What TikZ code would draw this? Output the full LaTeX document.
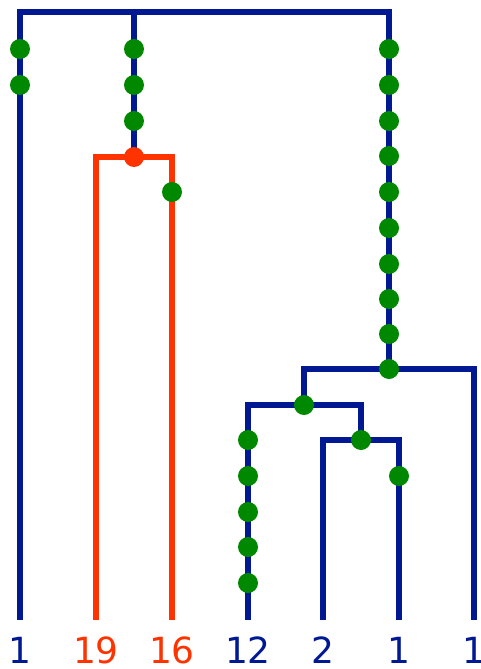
\documentclass[tikz,border=0pt]{standalone}
\usepackage{fontspec}
\setmainfont{DejaVu Sans}
\definecolor{tblue}{RGB}{0,24,145}
\definecolor{tred}{RGB}{255,51,0}
\definecolor{tgreen}{RGB}{0,136,0}
\tikzset{
  bl/.style={draw=tblue,line width=5.5pt,line join=miter},
  rd/.style={draw=tred,line width=5.5pt,line join=miter},
  gdot/.style={circle,fill=tgreen,inner sep=0pt,minimum size=20pt},
  rdot/.style={circle,fill=tred,inner sep=0pt,minimum size=20pt},
  lab/.style={anchor=base,inner sep=0pt,font=\fontsize{36}{40}\selectfont},
}
\begin{document}
\begin{tikzpicture}[x=1pt,y=-1pt]
\useasboundingbox (0,0) rectangle (481,669);
% junctions
\coordinate (rootL) at (20,12);
\coordinate (rootM) at (134,12);
\coordinate (rootR) at (389,12);
\coordinate (A) at (134,157);
\coordinate (B) at (389,369);
\coordinate (C) at (304,405);
\coordinate (D) at (361,440);
% leaves
\coordinate (l1) at (20,620);
\coordinate (l2) at (96,620);
\coordinate (l3) at (172,620);
\coordinate (l4) at (248,620);
\coordinate (l5) at (323,620);
\coordinate (l6) at (399,620);
\coordinate (l7) at (474,620);
% branches
\draw[bl] (l1) -- (rootL) -- (rootR) -- (B);
\draw[bl] (rootM) -- (A);
\draw[bl] (C) |- (B) -| (l7);
\draw[bl] (l4) |- (C) -| (D);
\draw[bl] (l5) |- (D) -| (l6);
\draw[rd] (l2) |- (A) -| (l3);
% dots
\node[gdot] (g1) at (20,49) {};
\node[gdot] (g2) at (20,85) {};
\node[gdot] (g3) at (134,49) {};
\node[gdot] (g4) at (134,85) {};
\node[gdot] (g5) at (134,121) {};
\node[rdot] (r1) at (A) {};
\node[gdot] (g6) at (172,192) {};
\foreach \y [count=\i] in {49,85,121,156,192,228,264,299,334,369}
  \node[gdot] (gr\i) at (389,\y) {};
\node[gdot] (gC) at (C) {};
\node[gdot] (gD) at (D) {};
\node[gdot] (g7) at (399,476) {};
\foreach \y [count=\i] in {440,476,512,547,583}
  \node[gdot] (gl\i) at (248,\y) {};
% labels
\node[lab,text=tblue] (t1) at (20,663) {1};
\node[lab,text=tred] (t2) at (96,663) {19};
\node[lab,text=tred] (t3) at (172,663) {16};
\node[lab,text=tblue] (t4) at (248,663) {12};
\node[lab,text=tblue] (t5) at (323,663) {2};
\node[lab,text=tblue] (t6) at (399,663) {1};
\node[lab,text=tblue] (t7) at (474,663) {1};
\end{tikzpicture}
\end{document}
